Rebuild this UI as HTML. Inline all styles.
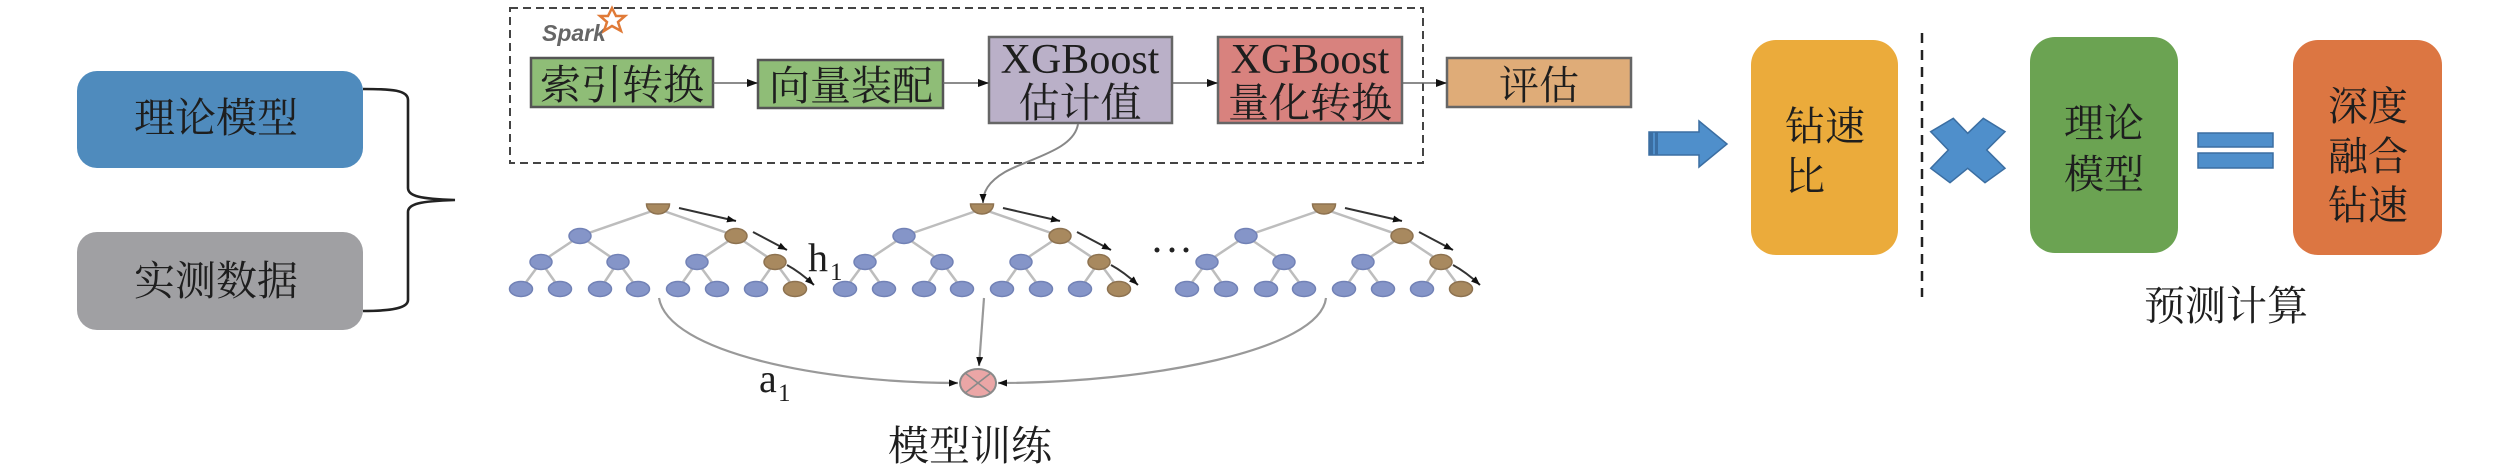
<!DOCTYPE html>
<html><head><meta charset="utf-8"><style>
html,body{margin:0;padding:0;background:#fff;}
svg{display:block;}
.cn{font-family:"Liberation Serif","Noto Serif CJK SC","Noto Sans CJK SC",serif;fill:#1e1e1e;}
.lat{font-family:"Liberation Serif",serif;fill:#1e1e1e;}
</style></head><body>
<svg width="2519" height="472" viewBox="0 0 2519 472" xmlns="http://www.w3.org/2000/svg">
<defs>
  <marker id="ah" markerUnits="userSpaceOnUse" markerWidth="12" markerHeight="10" refX="10" refY="5" orient="auto">
    <path d="M0,1 L11,5 L0,9 Z" fill="#111"/>
  </marker>
  <marker id="ahs" markerUnits="userSpaceOnUse" markerWidth="10" markerHeight="8" refX="9" refY="4" orient="auto">
    <path d="M0,0.5 L9,4 L0,7.5 Z" fill="#111"/>
  </marker>
  <g id="tree">
    <g stroke="#bdbdbd" stroke-width="2.5" fill="none">
      <line x1="0" y1="209" x2="-78" y2="236"/><line x1="0" y1="209" x2="78" y2="236"/>
      <line x1="-78" y1="236" x2="-117" y2="262"/><line x1="-78" y1="236" x2="-40" y2="262"/>
      <line x1="78" y1="236" x2="39" y2="262"/><line x1="78" y1="236" x2="117" y2="262"/>
      <line x1="-117" y1="262" x2="-137" y2="289"/><line x1="-117" y1="262" x2="-98" y2="289"/>
      <line x1="-40" y1="262" x2="-58" y2="289"/><line x1="-40" y1="262" x2="-20" y2="289"/>
      <line x1="39" y1="262" x2="20" y2="289"/><line x1="39" y1="262" x2="59" y2="289"/>
      <line x1="117" y1="262" x2="98" y2="289"/><line x1="117" y1="262" x2="137" y2="289"/>
    </g>
    <g fill="#8595c8" stroke="#7282b6" stroke-width="1.5">
      <ellipse cx="-78" cy="236" rx="11" ry="7.5"/>
      <ellipse cx="-117" cy="262" rx="11" ry="7.5"/><ellipse cx="-40" cy="262" rx="11" ry="7.5"/><ellipse cx="39" cy="262" rx="11" ry="7.5"/>
      <ellipse cx="-137" cy="289" rx="11.5" ry="7.5"/><ellipse cx="-98" cy="289" rx="11.5" ry="7.5"/><ellipse cx="-58" cy="289" rx="11.5" ry="7.5"/>
      <ellipse cx="-20" cy="289" rx="11.5" ry="7.5"/><ellipse cx="20" cy="289" rx="11.5" ry="7.5"/><ellipse cx="59" cy="289" rx="11.5" ry="7.5"/>
      <ellipse cx="98" cy="289" rx="11.5" ry="7.5"/>
    </g>
    <g fill="#a8895f" stroke="#8d7250" stroke-width="1.5">
      <path d="M-11.5,204 A11.5,10 0 0 0 11.5,204 Z"/>
      <ellipse cx="78" cy="236" rx="11" ry="7.5"/>
      <ellipse cx="117" cy="262" rx="11" ry="7.5"/>
      <ellipse cx="137" cy="289" rx="11.5" ry="7.5"/>
    </g>
    <g stroke="#333" stroke-width="2" fill="none">
      <line x1="21" y1="208" x2="78" y2="221" marker-end="url(#ahs)"/>
      <line x1="95" y1="232" x2="129" y2="250" marker-end="url(#ahs)"/>
      <path d="M129,265 Q142,272 156,285" marker-end="url(#ahs)"/>
    </g>
  </g>
</defs>

<!-- Left boxes -->
<rect x="77" y="71" width="286" height="97" rx="20" fill="#4f8bbd"/>
<text class="cn" x="216" y="132" font-size="41" text-anchor="middle">理论模型</text>
<rect x="77" y="232" width="286" height="98" rx="20" fill="#a0a0a3"/>
<text class="cn" x="216" y="295" font-size="41" text-anchor="middle">实测数据</text>

<!-- Brace -->
<path d="M363,89 C392,89 408,90 408,100 L408,188 C408,196 420,199 455,200 C420,201 408,204 408,212 L408,300 C408,308 392,311 363,311" fill="none" stroke="#222" stroke-width="2.6"/>

<!-- Spark dashed container -->
<rect x="510" y="8" width="913" height="155" fill="none" stroke="#444" stroke-width="2" stroke-dasharray="8 5"/>
<text x="542" y="41" font-family="Liberation Sans, sans-serif" font-size="23" font-style="italic" font-weight="bold" fill="#666">Spark</text>
<path d="M612,8 L616,16 L625,16 L618,22 L621,31 L612,26 L604,31 L607,22 L600,16 L608,16 Z" fill="none" stroke="#e07a37" stroke-width="2.5"/>

<!-- Pipeline boxes -->
<rect x="531" y="58" width="182" height="49" fill="#8fbd77" stroke="#555" stroke-width="2.5"/>
<text class="cn" x="622" y="99" font-size="41" text-anchor="middle">索引转换</text>
<rect x="758" y="60" width="185" height="48" fill="#8fbd77" stroke="#555" stroke-width="2.5"/>
<text class="cn" x="851" y="100" font-size="41" text-anchor="middle">向量装配</text>
<rect x="989" y="37" width="183" height="86" fill="#bab0c8" stroke="#666" stroke-width="2.5"/>
<text class="lat" x="1080" y="73" font-size="42" text-anchor="middle">XGBoost</text>
<text class="cn" x="1080" y="117" font-size="41" text-anchor="middle">估计值</text>
<rect x="1218" y="37" width="184" height="86" fill="#d8827e" stroke="#666" stroke-width="2.5"/>
<text class="lat" x="1310" y="73" font-size="42" text-anchor="middle">XGBoost</text>
<text class="cn" x="1310" y="117" font-size="41" text-anchor="middle">量化转换</text>
<rect x="1447" y="58" width="184" height="49" fill="#dfac78" stroke="#666" stroke-width="2.5"/>
<text class="cn" x="1539" y="99" font-size="40" text-anchor="middle">评估</text>

<g stroke="#666" stroke-width="1.6" fill="none">
  <line x1="713" y1="83" x2="757" y2="83" marker-end="url(#ah)"/>
  <line x1="943" y1="83" x2="988" y2="83" marker-end="url(#ah)"/>
  <line x1="1172" y1="83" x2="1217" y2="83" marker-end="url(#ah)"/>
  <line x1="1402" y1="83" x2="1446" y2="83" marker-end="url(#ah)"/>
</g>

<!-- connector from XGBoost estimate to tree 2 -->
<path d="M1078,124 C1074,150 1030,158 1005,172 C988,182 983,192 983,203" fill="none" stroke="#888" stroke-width="2" marker-end="url(#ahs)"/>

<!-- trees -->
<use href="#tree" x="658" y="0"/>
<use href="#tree" x="982" y="0"/>
<use href="#tree" x="1324" y="0"/>
<g fill="#222"><circle cx="1157" cy="250" r="2.5"/><circle cx="1172" cy="250" r="2.5"/><circle cx="1186" cy="250" r="2.5"/></g>

<!-- h1 -->
<text class="lat" x="808" y="271" font-size="40">h</text>
<text class="lat" x="830" y="280" font-size="25">1</text>

<!-- merge connectors -->
<g stroke="#999" stroke-width="2.2" fill="none">
  <path d="M659,298 C668,352 820,383 958,383" marker-end="url(#ahs)"/>
  <path d="M1326,298 C1320,350 1150,383 998,383" marker-end="url(#ahs)"/>
  <path d="M984,298 L979,366" marker-end="url(#ahs)"/>
</g>
<ellipse cx="978" cy="383" rx="18" ry="14" fill="#eba6a6" stroke="#8a8a8a" stroke-width="2"/>
<g stroke="#8a8a8a" stroke-width="1.6">
  <line x1="965.3" y1="373.1" x2="990.7" y2="392.9"/>
  <line x1="990.7" y1="373.1" x2="965.3" y2="392.9"/>
</g>

<!-- a1 -->
<text class="lat" x="759" y="392" font-size="40">a</text>
<text class="lat" x="778" y="401" font-size="25">1</text>

<text class="cn" x="970" y="460" font-size="41" text-anchor="middle">模型训练</text>

<!-- Right section -->
<g fill="#4f8fcb" stroke="#3b6ea2" stroke-width="1.5">
  <path d="M1649,132 L1699,132 L1699,121 L1727,144 L1699,167 L1699,155 L1649,155 Z"/>
</g>
<rect x="1649" y="132" width="4" height="23" fill="#3b6ea2"/>
<rect x="1655" y="132" width="3" height="23" fill="#3b6ea2"/>

<rect x="1751" y="40" width="147" height="215" rx="25" fill="#ebab3b"/>
<text class="cn" x="1785" y="140" font-size="40">钻速</text>
<text class="cn" x="1785" y="190" font-size="40">比</text>

<line x1="1922" y1="33" x2="1922" y2="297" stroke="#222" stroke-width="2.5" stroke-dasharray="10 7"/>

<path d="M1930.7,131.7 L1953.3,118.3 L1967.7,133.3 L1983.3,118.3 L2005,131.7 L1986.7,150 L2005,168.3 L1985,182.7 L1967.7,168.3 L1950,182.7 L1930.7,168.3 L1948.3,150 Z" fill="#4f8fcb" stroke="#3b6ea2" stroke-width="1.5"/>

<rect x="2030" y="37" width="148" height="216" rx="25" fill="#6ba352"/>
<text class="cn" x="2064" y="137" font-size="40">理论</text>
<text class="cn" x="2064" y="188" font-size="40">模型</text>

<g fill="#4f8fcb" stroke="#3b6ea2" stroke-width="1.5">
  <rect x="2198" y="133" width="75" height="14"/>
  <rect x="2198" y="153" width="75" height="15"/>
</g>

<rect x="2293" y="40" width="149" height="215" rx="25" fill="#dc7642"/>
<text class="cn" x="2328" y="120" font-size="40">深度</text>
<text class="cn" x="2328" y="170" font-size="40">融合</text>
<text class="cn" x="2328" y="219" font-size="40">钻速</text>

<text class="cn" x="2226" y="320" font-size="41" text-anchor="middle">预测计算</text>
</svg>
</body></html>
